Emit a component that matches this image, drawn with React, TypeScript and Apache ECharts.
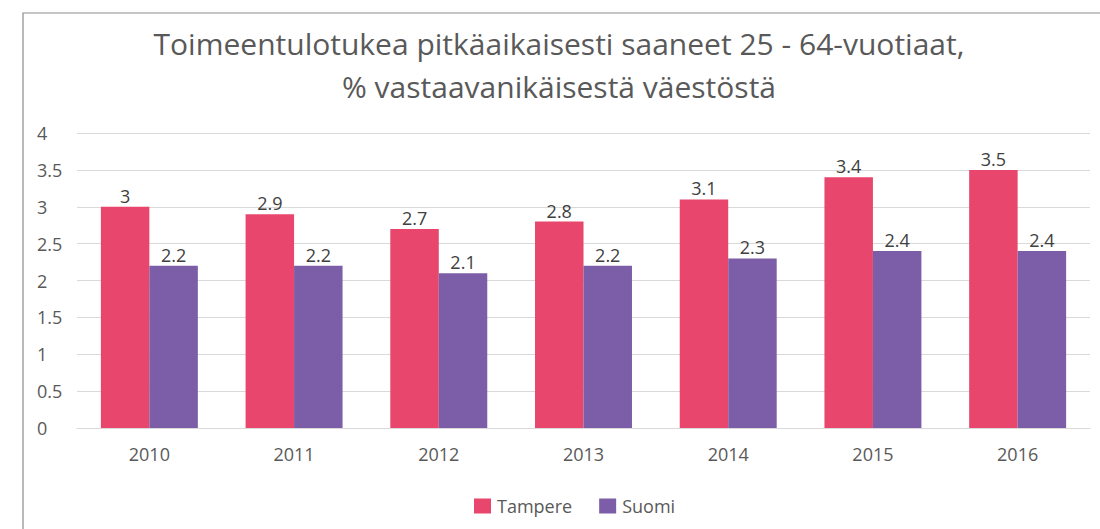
import React, { useEffect, useRef } from "react";
import * as echarts from "echarts";

const categories = ["2010", "2011", "2012", "2013", "2014", "2015", "2016"];
const tampere = [3, 2.9, 2.7, 2.8, 3.1, 3.4, 3.5];
const suomi = [2.2, 2.2, 2.1, 2.2, 2.3, 2.4, 2.4];
const titleText = "Toimeentulotukea pitkäaikaisesti saaneet 25 - 64-vuotiaat,\n% vastaavanikäisestä väestöstä";

const FONT = "'Open Sans', Lato, sans-serif";

export default function App() {
  const ref = useRef<HTMLDivElement>(null);
  useEffect(() => {
    document.body.style.margin = "0";
    const chart = echarts.init(ref.current!, null, { renderer: "svg" });
    chart.setOption({
      animation: false,
      backgroundColor: "#ffffff",
      textStyle: { fontFamily: FONT },
      title: {
        text: titleText,
        left: 559,
        top: 22,
        padding: 0,
        textAlign: "center",
        textStyle: { fontSize: 30, fontWeight: "normal", color: "#595959", lineHeight: 43, fontFamily: FONT },
      },
      graphic: [
        {
          type: "rect",
          shape: { x: 23, y: 13, width: 1200, height: 700 },
          style: { fill: "none", stroke: "#8c8c8c", lineWidth: 1.2 },
          silent: true,
        },
      ],
      legend: {
        left: 474,
        top: 497,
        padding: 0,
        itemWidth: 17,
        itemHeight: 15,
        itemGap: 27,
        icon: "rect",
        textStyle: { fontSize: 18, color: "#595959", fontFamily: FONT, padding: [0, 0, 0, 1] },
        data: ["Tampere", "Suomi"],
      },
      grid: { left: 77, right: 10, top: 133, bottom: 101, containLabel: false },
      xAxis: {
        type: "category",
        data: categories,
        axisLine: { show: true, lineStyle: { color: "#d9d9d9", width: 1 } },
        axisTick: { show: false },
        axisLabel: { fontSize: 18, color: "#595959", margin: 17, fontFamily: FONT },
      },
      yAxis: {
        type: "value",
        min: 0,
        max: 4,
        interval: 0.5,
        axisLine: { show: false },
        axisTick: { show: false },
        splitLine: { lineStyle: { color: "#d9d9d9", width: 1 } },
        axisLabel: { fontSize: 18, color: "#595959", align: "left", margin: 40, fontFamily: FONT },
      },
      series: [
        {
          name: "Tampere",
          type: "bar",
          data: tampere,
          itemStyle: { color: "#e8466d" },
          barGap: "0%",
          barCategoryGap: "33%",
          label: { show: true, position: "top", distance: 2, fontSize: 18, color: "#404040", fontFamily: FONT },
        },
        {
          name: "Suomi",
          type: "bar",
          data: suomi,
          itemStyle: { color: "#7b5ea7" },
          barGap: "0%",
          barCategoryGap: "33%",
          label: { show: true, position: "top", distance: 2, fontSize: 18, color: "#404040", fontFamily: FONT },
        },
      ],
    });
    return () => chart.dispose();
  }, []);
  return <div ref={ref} style={{ width: 1100, height: 529 }} />;
}
